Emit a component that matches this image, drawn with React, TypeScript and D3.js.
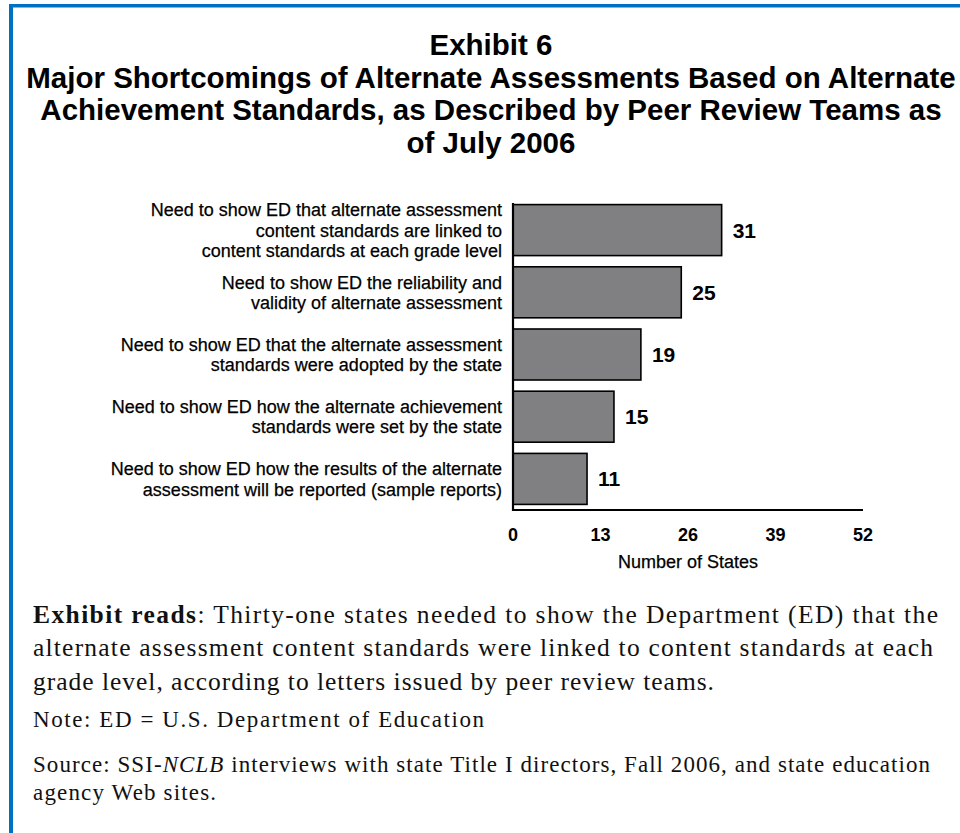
import React from "react";
import * as d3 from "d3";

const categories: string[][] = [
  ["Need to show ED that alternate assessment", "content standards are linked to", "content standards at each grade level"],
  ["Need to show ED the reliability and", "validity of alternate assessment"],
  ["Need to show ED that the alternate assessment", "standards were adopted by the state"],
  ["Need to show ED how the alternate achievement", "standards were set by the state"],
  ["Need to show ED how the results of the alternate", "assessment will be reported (sample reports)"],
];
const values: number[] = [31, 25, 19, 15, 11];
const xTicks: number[] = [0, 13, 26, 39, 52];
const titleLines: string[] = [
  "Exhibit 6",
  "Major Shortcomings of Alternate Assessments Based on Alternate",
  "Achievement Standards, as Described by Peer Review Teams as",
  "of July 2006",
];
const xAxisTitle = "Number of States";

const SANS = "'Liberation Sans', Arial, sans-serif";
const SERIF = "'Liberation Serif', 'Times New Roman', serif";

export default function App() {
  const W = 960;
  const H = 833;
  const x = d3.scaleLinear().domain([0, 52]).range([513, 863]);
  const idx = categories.map((_, i) => String(i));
  const y = d3.scaleBand().domain(idx).range([199, 510]).paddingInner(0.18).paddingOuter(0.09);
  const bw = y.bandwidth();
  const lineH = 20.5;

  return (
    <svg width={W} height={H} style={{ position: "absolute", left: 0, top: 0, background: "#fff" }}>
      <rect x={9} y={4} width={W - 9} height={3.5} fill="#0070c0" />
      <rect x={9} y={4} width={4} height={H - 4} fill="#0070c0" />

      {titleLines.map((t, i) => (
        <text key={i} x={491} y={55 + i * 32.5} textAnchor="middle" fontFamily={SANS} fontWeight="bold" fontSize={29.5} fill="#000">
          {t}
        </text>
      ))}

      {values.map((v, i) => {
        const yy = y(String(i))!;
        return (
          <g key={i}>
            <rect x={x(0)} y={yy} width={x(v) - x(0)} height={bw} fill="#808083" stroke="#000" strokeWidth={1.6} />
            <text x={x(v) + 11} y={yy + bw / 2} dy="0.36em" fontFamily={SANS} fontWeight="bold" fontSize={21}>
              {v}
            </text>
            {categories[i].map((line, j) => {
              const n = categories[i].length;
              const cy = yy + bw / 2 + (j - (n - 1) / 2) * lineH;
              return (
                <text key={j} x={502} y={cy} dy="0.36em" textAnchor="end" fontFamily={SANS} fontSize={18} fill="#000" stroke="#000" strokeWidth={0.25}>
                  {line}
                </text>
              );
            })}
          </g>
        );
      })}

      <line x1={x(0)} x2={x(0)} y1={203} y2={511} stroke="#000" strokeWidth={2.2} />
      <line x1={x(0) - 1} x2={x(52)} y1={510} y2={510} stroke="#000" strokeWidth={2.2} />
      {xTicks.map((t) => (
        <text key={t} x={x(t)} y={535} dy="0.36em" textAnchor="middle" fontFamily={SANS} fontWeight="bold" fontSize={18}>
          {t}
        </text>
      ))}
      <text x={(x(0) + x(52)) / 2} y={562} dy="0.36em" textAnchor="middle" fontFamily={SANS} fontSize={18} stroke="#000" strokeWidth={0.25}>
        {xAxisTitle}
      </text>

      <g fontFamily={SERIF} fontSize={25.5} fill="#111">
        <text x={33} y={623} textLength={905} lengthAdjust="spacing">
          <tspan fontWeight="bold">Exhibit reads</tspan>: Thirty-one states needed to show the Department (ED) that the
        </text>
        <text x={33} y={656} textLength={900} lengthAdjust="spacing">
          alternate assessment content standards were linked to content standards at each
        </text>
        <text x={33} y={690} textLength={681} lengthAdjust="spacing">
          grade level, according to letters issued by peer review teams.
        </text>
        <text x={33} y={727} fontSize={23} textLength={451} lengthAdjust="spacing">
          Note: ED = U.S. Department of Education
        </text>
        <text x={33} y={772} fontSize={23} textLength={897} lengthAdjust="spacing">
          Source: SSI-<tspan fontStyle="italic">NCLB</tspan> interviews with state Title I directors, Fall 2006, and state education
        </text>
        <text x={33} y={800} fontSize={23} textLength={183} lengthAdjust="spacing">
          agency Web sites.
        </text>
      </g>
    </svg>
  );
}
